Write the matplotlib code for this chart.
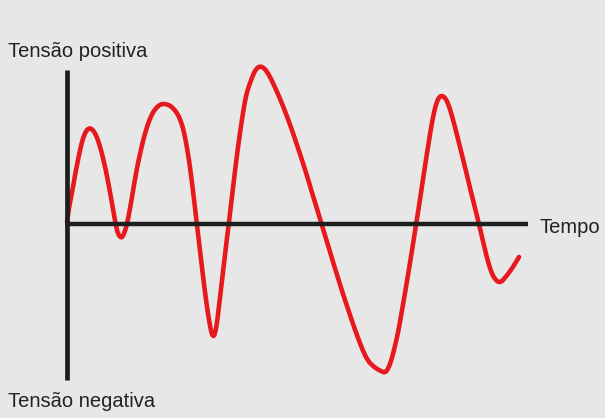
import matplotlib.pyplot as plt
from matplotlib.path import Path
from matplotlib.patches import PathPatch

# pontos (pixels): x = tempo, y = tensao (y cresce para baixo)
px_x = [67, 69, 72, 75, 78, 80, 83, 86, 89, 92, 95, 98, 101, 104, 107, 110, 113, 116,
        118, 121, 123, 125, 127, 129, 131, 133, 135, 137, 140, 143, 146, 149, 153, 157, 161,
        165, 169, 173, 177, 180, 183, 185, 187, 189, 191, 193, 195, 197, 199, 201, 203, 205,
        207, 209, 211, 213, 215, 217, 219, 221, 223, 225, 227, 229, 231, 233, 235,
        237, 239, 241, 243, 245, 247, 250, 253, 256, 260, 264, 268, 273, 278, 283, 288,
        293, 298, 303, 308, 313, 318, 323, 328, 333, 338, 343, 348, 353, 358, 363, 368,
        373, 377, 381, 385, 388, 390, 392, 395, 398, 401, 404, 407, 410, 413, 416, 419,
        422, 425, 428, 431, 434, 437, 440, 443, 446, 449, 452, 455, 458, 462, 466, 470,
        474, 478, 482, 486, 489, 492, 495, 498, 501, 504, 508, 513, 519]
px_y = [222, 207, 193, 175, 160, 150, 138, 131, 128, 129, 133, 140, 150, 162, 176, 192, 209, 226,
        234, 238, 236, 231, 224, 214, 203, 191, 179, 168, 154, 141, 130, 121, 112, 107, 104,
        104, 105, 108, 113, 119, 128, 137, 148, 160, 175, 191, 208, 225, 242, 259, 276, 292,
        307, 320, 331, 337, 334, 323, 306, 289, 272, 255, 238, 222, 205, 188, 171,
        155, 140, 126, 113, 101, 92, 83, 75, 69, 66, 68, 73, 83, 94, 106, 119,
        133, 148, 163, 179, 196, 212, 229, 245, 262, 278, 294, 309, 324, 338, 351, 361,
        366, 369, 371, 373, 369, 364, 358, 346, 333, 316, 299, 281, 263, 244, 225, 206,
        186, 166, 147, 128, 112, 101, 96, 96, 99, 106, 116, 127, 139, 155, 171, 188,
        204, 220, 237, 254, 265, 274, 279, 282, 282, 279, 274, 267, 257]

origem_x = 67
origem_y = 224
tempo = [x - origem_x for x in px_x]
tensao = [origem_y - y for y in px_y]

rotulo_pos = 'Tensão positiva'
rotulo_neg = 'Tensão negativa'
rotulo_tempo = 'Tempo'

fundo = '#e7e7e8'
vermelho = '#e8191e'
preto = '#1e1e1e'

fig = plt.figure(figsize=(6.05, 4.18), dpi=100, facecolor=fundo)
ax = fig.add_axes([0, 0, 1, 1])
ax.set_facecolor(fundo)
ax.set_xlim(-origem_x, 605 - origem_x)
ax.set_ylim(origem_y - 418, origem_y)
ax.axis('off')

# eixos
ax.plot([0, 0], [origem_y - 70, origem_y - 380], color=preto, lw=3.4, solid_capstyle='butt')
ax.plot([-2, 528 - origem_x], [0, 0], color=preto, lw=3.2, solid_capstyle='butt')

# sinal: curva suave passando pelos pontos medios (bezier quadratica)
pts = list(zip(tempo, tensao))
verts = [pts[0]]
codes = [Path.MOVETO]
for i in range(1, len(pts) - 1):
    meio = ((pts[i][0] + pts[i + 1][0]) / 2, (pts[i][1] + pts[i + 1][1]) / 2)
    verts += [pts[i], meio]
    codes += [Path.CURVE3, Path.CURVE3]
verts.append(pts[-1])
codes.append(Path.LINETO)
sinal = PathPatch(Path(verts, codes), facecolor='none', edgecolor=vermelho, lw=3.3,
                  capstyle='round', joinstyle='round')
ax.add_patch(sinal)

ax.text(8 - origem_x, origem_y - 57, rotulo_pos, fontsize=14.5, family='Liberation Sans',
        color='#222222', va='baseline', ha='left')
ax.text(8 - origem_x, origem_y - 407, rotulo_neg, fontsize=14.5, family='Liberation Sans',
        color='#222222', va='baseline', ha='left')
ax.text(539 - origem_x, origem_y - 233, rotulo_tempo, fontsize=14.5, family='Liberation Sans',
        color='#222222', va='baseline', ha='left')

fig.savefig('out.png', dpi=100, facecolor=fundo)
